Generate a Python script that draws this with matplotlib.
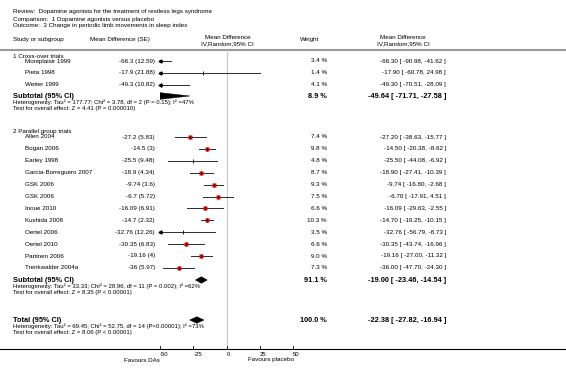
import numpy as np
import matplotlib.pyplot as plt
from matplotlib.patches import Polygon
from matplotlib.lines import Line2D

plt.rcParams['font.family'] = ['Liberation Sans', 'DejaVu Sans']

W, H = 566, 380
FONT = 4.5
SMALL = 4.3
BOLD = 5.3
RED = "#ee0000"
GREY = "#9a9a9a"
LINE = "#333333"

title_lines = [
    "Review:  Dopamine agonists for the treatment of restless legs syndrome",
    "Comparison:  1 Dopamine agonists versus placebo",
    "Outcome:  3 Change in periodic limb movements in sleep index",
]

# 1 Cross-over trials
names1 = ["Montplaisir 1999", "Pieta 1998", "Wetter 1999"]
md1 = [-66.3, -17.9, -49.3]
se1 = [12.59, 21.88, 10.82]
lo1 = [-90.98, -60.78, -70.51]
hi1 = [-41.62, 24.98, -28.09]
wt1 = [3.4, 1.4, 4.1]

# 2 Parallel group trials
names2 = ["Allen 2004", "Bogan 2006", "Earley 1998", "Garcia-Borreguero 2007",
          "GSK 2006", "GSK 2006", "Inoue 2010", "Kushida 2008", "Oertel 2006",
          "Oertel 2010", "Partinen 2006", "Trenkwalder 2004a"]
md2 = [-27.2, -14.5, -25.5, -18.9, -9.74, -6.7, -16.09, -14.7, -32.76, -30.35, -19.16, -36]
se2 = [5.83, 3, 9.48, 4.34, 3.6, 5.72, 6.91, 2.32, 12.26, 6.83, 4, 5.97]
lo2 = [-38.63, -20.38, -44.08, -27.41, -16.80, -17.91, -29.63, -19.25, -56.79, -43.74, -27.00, -47.70]
hi2 = [-15.77, -8.62, -6.92, -10.39, -2.68, 4.51, -2.55, -10.15, -8.73, -16.96, -11.32, -24.30]
wt2 = [7.4, 9.8, 4.8, 8.7, 9.3, 7.5, 6.6, 10.3, 3.5, 6.6, 9.0, 7.3]

# pooled: subtotal 1, subtotal 2, total
pool_md = [-49.64, -19.00, -22.38]
pool_lo = [-71.71, -23.46, -27.82]
pool_hi = [-27.58, -14.54, -16.94]
pool_wt = [8.9, 91.1, 100.0]
pool_label = ["Subtotal (95% CI)", "Subtotal (95% CI)", "Total (95% CI)"]
pool_het = [
    "Heterogeneity: Tau\u00b2 = 177.77; Chi\u00b2 = 3.78, df = 2 (P = 0.15); I\u00b2 =47%",
    "Heterogeneity: Tau\u00b2 = 33.33; Chi\u00b2 = 28.96, df = 11 (P = 0.002); I\u00b2 =62%",
    "Heterogeneity: Tau\u00b2 = 69.45; Chi\u00b2 = 52.75, df = 14 (P<0.00001); I\u00b2 =73%",
]
pool_test = [
    "Test for overall effect: Z = 4.41 (P = 0.000010)",
    "Test for overall effect: Z = 8.35 (P < 0.00001)",
    "Test for overall effect: Z = 8.06 (P < 0.00001)",
]

ticks = [-50, -25, 0, 25, 50]
XMIN, XMAX = -50, 50

# layout (pixel rows)
y1 = 61 + 11.8 * np.arange(len(names1))
y2 = 137 + 11.9 * np.arange(len(names2))
pool_y = [96, 280, 320]
AXIS_Y = 349

fig = plt.figure(figsize=(W / 100, H / 100), dpi=100)
lay = fig.add_axes([0, 0, 1, 1])
lay.set_xlim(0, W)
lay.set_ylim(H, 0)
lay.axis('off')

x0_px, x1_px = 160, 293.3
ax = fig.add_axes([x0_px / W, 0, (x1_px - x0_px) / W, 1])
ax.set_xlim(XMIN, XMAX)
ax.set_ylim(H, 0)
ax.axis('off')
ax.patch.set_alpha(0)

for i, t in enumerate(title_lines):
    lay.text(13, 12 + 7 * i, t, fontsize=FONT, va='center')

# header
lay.text(13, 40, "Study or subgroup", fontsize=FONT, va='center')
lay.text(90, 40, "Mean Difference (SE)", fontsize=FONT, va='center')
lay.text(251, 37.5, "Mean Difference", fontsize=FONT, va='center', ha='right')
lay.text(254, 43.5, "IV,Random,95% CI", fontsize=FONT, va='center', ha='right')
lay.text(300, 40, "Weight", fontsize=FONT, va='center')
lay.text(426, 37.5, "Mean Difference", fontsize=FONT, va='center', ha='right')
lay.text(430, 43.5, "IV,Random,95% CI", fontsize=FONT, va='center', ha='right')
lay.plot([0, W], [50, 50], color=GREY, lw=1.5)

# zero line
ax.plot([0, 0], [50, AXIS_Y], color="#c8c8c8", lw=0.8)

lay.text(13, 56, "1 Cross-over trials", fontsize=FONT, va='center')
lay.text(13, 131, "2 Parallel group trials", fontsize=FONT, va='center')


def draw_group(names, md, se, lo, hi, wt, ys):
    for n, m, s, l, h, w, y in zip(names, md, se, lo, hi, wt, ys):
        lay.text(25, y, n, fontsize=FONT, va='center')
        lay.text(155, y, f"{m:g} ({s:g})", fontsize=FONT, va='center', ha='right')
        lay.text(327, y, f"{w:.1f} %", fontsize=FONT, va='center', ha='right')
        lay.text(446, y, f"{m:.2f} [ {l:.2f}, {h:.2f} ]", fontsize=FONT,
                 va='center', ha='right')
        ax.plot([l, h], [y, y], color=LINE, lw=0.75)
        if l < XMIN:
            ax.plot(XMIN, y, marker='<', ms=2.2, color='black', clip_on=False)
        if h > XMAX:
            ax.plot(XMAX, y, marker='>', ms=2.2, color='black', clip_on=False)
        if XMIN <= m <= XMAX:
            if w >= 5:
                ax.plot(m, y, marker='s', ms=1.05 * np.sqrt(w), color=RED,
                        mec='none')
            ax.plot(m, y, marker='|', ms=2.6, mew=0.6, color='black')


draw_group(names1, md1, se1, lo1, hi1, wt1, y1)
draw_group(names2, md2, se2, lo2, hi2, wt2, y2)

for lab, m, l, h, w, het, test, y in zip(pool_label, pool_md, pool_lo, pool_hi,
                                         pool_wt, pool_het, pool_test, pool_y):
    lay.text(13, y, lab, fontsize=BOLD, fontweight='bold', va='center')
    lay.text(327, y, f"{w:.1f} %", fontsize=BOLD, fontweight='bold',
             va='center', ha='right')
    lay.text(446, y, f"{m:.2f} [ {l:.2f}, {h:.2f} ]", fontsize=BOLD,
             fontweight='bold', va='center', ha='right')
    lay.text(13, y + 6.5, het, fontsize=SMALL, va='center')
    lay.text(13, y + 12.5, test, fontsize=SMALL, va='center')
    dh = 3.3
    ax.add_patch(Polygon([(l, y), (m, y - dh), (h, y), (m, y + dh)],
                         closed=True, facecolor='black', edgecolor='black',
                         lw=0.3))

# x axis
lay.plot([0, W], [AXIS_Y, AXIS_Y], color='black', lw=0.8)
for t in ticks:
    ax.plot([t, t], [AXIS_Y - 3, AXIS_Y], color='black', lw=0.6, clip_on=False)
    ax.text(t, 354, f"{t}", fontsize=SMALL, va='center', ha='left')
lay.text(142, 360, "Favours DAs", fontsize=FONT, va='center', ha='center')
lay.text(271, 360, "Favours placebo", fontsize=FONT, va='center', ha='center')

plt.savefig("out.png", dpi=100)
